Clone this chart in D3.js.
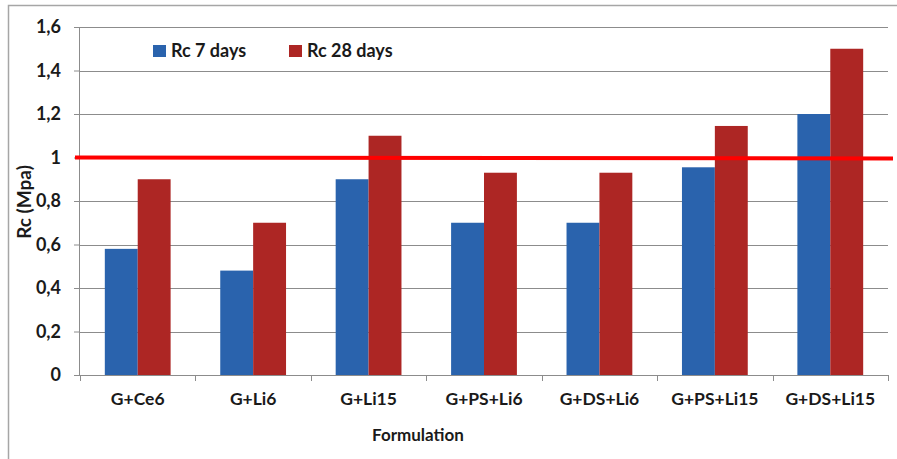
<!DOCTYPE html>
<html>
<head>
<meta charset="utf-8">
<script src="https://cdn.jsdelivr.net/npm/d3@7"></script>
<style>
  body { margin: 0; background: #fff; }
  svg { display: block; }
  text { font-family: Lato, "Open Sans", "Liberation Sans", sans-serif; fill: #1a1a1a; }
</style>
</head>
<body>
<svg id="chart" width="897" height="459"></svg>
<script>
// Compressive strength per formulation
const categories = ["G+Ce6", "G+Li6", "G+Li15", "G+PS+Li6", "G+DS+Li6", "G+PS+Li15", "G+DS+Li15"];
const rc7 = [0.58, 0.48, 0.90, 0.70, 0.70, 0.955, 1.20];
const rc28 = [0.90, 0.70, 1.10, 0.93, 0.93, 1.145, 1.50];
const seriesNames = ["Rc 7 days", "Rc 28 days"];
const seriesColors = ["#2a63ad", "#ad2624"];
const yTicks = [0, 0.2, 0.4, 0.6, 0.8, 1, 1.2, 1.4, 1.6];
const threshold = 1;

const svg = d3.select("#chart");
const margin = { left: 80, right: 9, top: 27, bottom: 84 };
const W = 897, H = 459;
const plotW = W - margin.left - margin.right;
const plotH = H - margin.top - margin.bottom;

// Outer frame
svg.append("rect")
  .attr("x", 8.5).attr("y", 5.5)
  .attr("width", 900).attr("height", 470)
  .attr("fill", "none").attr("stroke", "#a6a6a6").attr("stroke-width", 1.5);

const x = d3.scaleBand().domain(categories).range([0, plotW]).paddingInner(0).paddingOuter(0);
const xs = d3.scaleBand().domain(seriesNames).range([x.bandwidth() * 0.215, x.bandwidth() * 0.785]);
const y = d3.scaleLinear().domain([0, 1.6]).range([plotH, 0]);

const g = svg.append("g").attr("transform", `translate(${margin.left},${margin.top})`);

// Horizontal gridlines
g.append("g").selectAll("line").data(yTicks.filter(t => t > 0)).join("line")
  .attr("x1", 0).attr("x2", plotW)
  .attr("y1", d => Math.round(y(d)) + 0.5).attr("y2", d => Math.round(y(d)) + 0.5)
  .attr("stroke", "#8c8c8c").attr("stroke-width", 1);

// Bars
const groups = g.append("g").selectAll("g").data(categories).join("g")
  .attr("transform", d => `translate(${x(d)},0)`);
groups.selectAll("rect")
  .data((d, i) => [{ s: seriesNames[0], v: rc7[i] }, { s: seriesNames[1], v: rc28[i] }])
  .join("rect")
  .attr("x", d => xs(d.s))
  .attr("width", xs.bandwidth())
  .attr("y", d => y(d.v))
  .attr("height", d => plotH - y(d.v))
  .attr("fill", (d, i) => seriesColors[i]);

// Y axis
const yAxis = g.append("g")
  .call(d3.axisLeft(y).tickValues(yTicks).tickSize(6).tickPadding(13)
    .tickFormat(d => d3.format("~g")(d).replace(".", ",")));
yAxis.select(".domain").attr("stroke", "#8c8c8c").attr("d", `M-0.5,${plotH}V0`);
yAxis.selectAll(".tick line").attr("stroke", "#8c8c8c");
yAxis.selectAll(".tick text")
  .style("font-size", "18px").style("font-weight", "700").attr("fill", "#1a1a1a");

// X axis
const xAxis = g.append("g").attr("transform", `translate(0,${plotH})`)
  .call(d3.axisBottom(x).tickSize(0).tickPadding(18));
xAxis.select(".domain").attr("stroke", "#8c8c8c").attr("d", `M0,0.5H${plotW}`);
xAxis.selectAll(".tick text")
  .style("font-size", "17.5px").style("font-weight", "700").attr("fill", "#1a1a1a");
xAxis.append("g").selectAll("line").data(d3.range(categories.length + 1)).join("line")
  .attr("x1", i => Math.round(i * x.step()) + 0.5).attr("x2", i => Math.round(i * x.step()) + 0.5)
  .attr("y1", 0).attr("y2", 6)
  .attr("stroke", "#8c8c8c");

// Threshold line at 1 MPa
g.append("line")
  .attr("x1", -5).attr("x2", plotW + 5)
  .attr("y1", y(threshold)).attr("y2", y(threshold) + 1)
  .attr("stroke", "#ff0000").attr("stroke-width", 4);

// Axis titles
svg.append("text")
  .attr("transform", `translate(31,202) rotate(-90)`)
  .attr("text-anchor", "middle")
  .style("font-size", "19px").style("font-weight", "700")
  .text("Rc (Mpa)");
svg.append("text")
  .attr("x", 418).attr("y", 441)
  .attr("text-anchor", "middle")
  .style("font-size", "17px").style("font-weight", "700")
  .text("Formulation");

// Legend
const legendX = [153, 289];
const legend = svg.append("g").selectAll("g").data(seriesNames).join("g")
  .attr("transform", (d, i) => `translate(${legendX[i]},45)`);
legend.append("rect").attr("width", 13).attr("height", 12)
  .attr("fill", (d, i) => seriesColors[i]);
legend.append("text").attr("x", 18).attr("y", 12)
  .style("font-size", "18px").style("font-weight", "700")
  .text(d => d);
</script>
</body>
</html>
